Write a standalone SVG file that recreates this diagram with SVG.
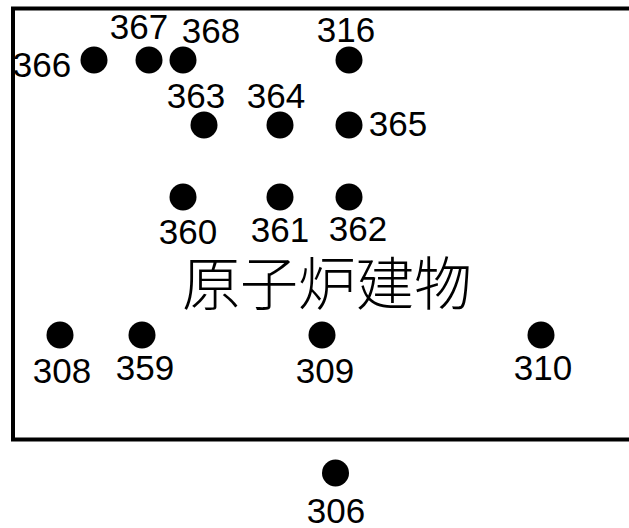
<svg xmlns="http://www.w3.org/2000/svg" width="629" height="528" viewBox="0 0 629 528">
<style>
.pt{fill:#000}
.lb{font-family:"Liberation Sans",Arial,sans-serif;font-size:35px;fill:#000;text-anchor:middle}
.bd{fill:none;stroke:#000;stroke-width:4}
.title{font-family:"Noto Sans CJK JP","Noto Sans CJK SC",sans-serif;font-size:58px;fill:#000;text-anchor:middle;font-weight:300}
</style>
<g id="building">
<path class="bd" d="M640 8.5H13V439.5H640"/>
<text class="title" x="327" y="305">原子炉建物</text>
</g>
<g id="connectors"></g>
<g id="n366"><circle class="pt" cx="94" cy="60" r="13.5"/><text class="lb" x="42" y="77">366</text></g>
<g id="n367"><circle class="pt" cx="149" cy="60" r="13.5"/><text class="lb" x="139" y="39">367</text></g>
<g id="n368"><circle class="pt" cx="183" cy="60" r="13.5"/><text class="lb" x="211" y="43">368</text></g>
<g id="n316"><circle class="pt" cx="349" cy="60" r="13.5"/><text class="lb" x="346" y="42">316</text></g>
<g id="n363"><circle class="pt" cx="204" cy="125" r="13.5"/><text class="lb" x="196" y="108">363</text></g>
<g id="n364"><circle class="pt" cx="280" cy="125" r="13.5"/><text class="lb" x="276" y="108">364</text></g>
<g id="n365"><circle class="pt" cx="349" cy="125" r="13.5"/><text class="lb" x="398" y="136">365</text></g>
<g id="n360"><circle class="pt" cx="183" cy="197" r="13.5"/><text class="lb" x="188" y="244">360</text></g>
<g id="n361"><circle class="pt" cx="280" cy="197" r="13.5"/><text class="lb" x="280" y="242">361</text></g>
<g id="n362"><circle class="pt" cx="349" cy="197" r="13.5"/><text class="lb" x="358" y="241">362</text></g>
<g id="n308"><circle class="pt" cx="60" cy="335" r="13.5"/><text class="lb" x="62" y="383">308</text></g>
<g id="n359"><circle class="pt" cx="142" cy="335" r="13.5"/><text class="lb" x="145" y="380">359</text></g>
<g id="n309"><circle class="pt" cx="322" cy="335" r="13.5"/><text class="lb" x="325" y="383">309</text></g>
<g id="n310"><circle class="pt" cx="541" cy="335" r="13.5"/><text class="lb" x="543" y="380">310</text></g>
<g id="n306"><circle class="pt" cx="335.5" cy="473" r="13.5"/><text class="lb" x="336" y="523">306</text></g>
</svg>
